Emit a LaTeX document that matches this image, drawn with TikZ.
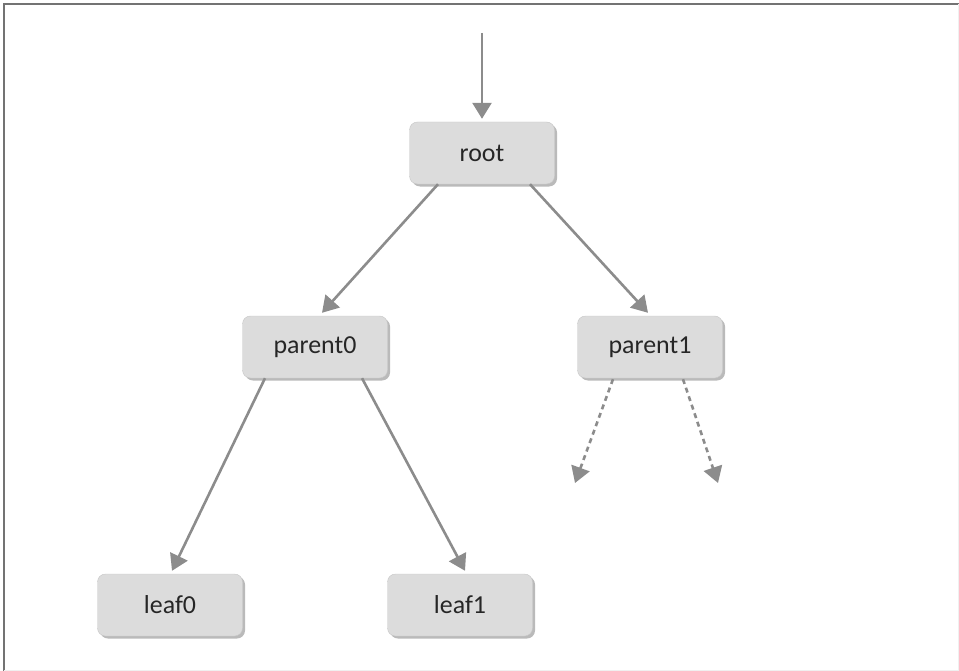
\documentclass[tikz,border=0pt]{standalone}
\usepackage{fontspec}
\setmainfont{Carlito}
\usetikzlibrary{arrows.meta,shadows}

\definecolor{boxfill}{HTML}{DCDCDC}
\definecolor{linkgray}{HTML}{8C8C8C}
\definecolor{textgray}{HTML}{262626}

\tikzset{
  treebox/.style={fill=boxfill, draw=boxfill!90!black, line width=0.4bp,
    rounded corners=8bp, minimum width=145bp, minimum height=62bp,
    text=textgray, font=\fontsize{26}{31}\selectfont,
    drop shadow={shadow xshift=2.5bp, shadow yshift=-2.5bp, fill=black!45, opacity=0.6}},
  link/.style={draw=linkgray, line width=2.6bp,
    -{Triangle[length=16bp,width=19bp]}},
  openlink/.style={link, dash pattern=on 5bp off 4bp}
}

\begin{document}
\begin{tikzpicture}[x=1bp,y=-1bp]
\useasboundingbox (0,0) rectangle (959,671);
% frame
\draw[black!55, line width=2bp] (4,671) -- (4,4) -- (959,4);
\draw[black!6, line width=1bp] (958,4) -- (958,670) -- (4,670);

% nodes
\node[treebox] (root) at (482,153) {root};
\node[treebox] (parent0) at (315,347) {parent0};
\node[treebox] (parent1) at (650,347) {parent1};
\node[treebox] (leaf0) at (170,605) {leaf0};
\node[treebox] (leaf1) at (460,605) {leaf1};

\coordinate (entry) at (482,33);
\coordinate (more0) at (575,483);
\coordinate (more1) at (718,483);

% links
\draw[link] (entry) -- ([yshift=3bp]root.north);
\draw[link] ([xshift=-44bp]root.south) -- ([xshift=7bp,yshift=3bp]parent0.north);
\draw[link] ([xshift=48bp]root.south) -- ([xshift=-2bp,yshift=3bp]parent1.north);
\draw[link] ([xshift=-50bp]parent0.south) -- ([xshift=2bp,yshift=3bp]leaf0.north);
\draw[link] ([xshift=47bp]parent0.south) -- ([xshift=5bp,yshift=3bp]leaf1.north);
\draw[openlink] ([xshift=-37bp,yshift=-1bp]parent1.south) -- (more0);
\draw[openlink] ([xshift=33bp,yshift=-1bp]parent1.south) -- (more1);
\end{tikzpicture}
\end{document}
